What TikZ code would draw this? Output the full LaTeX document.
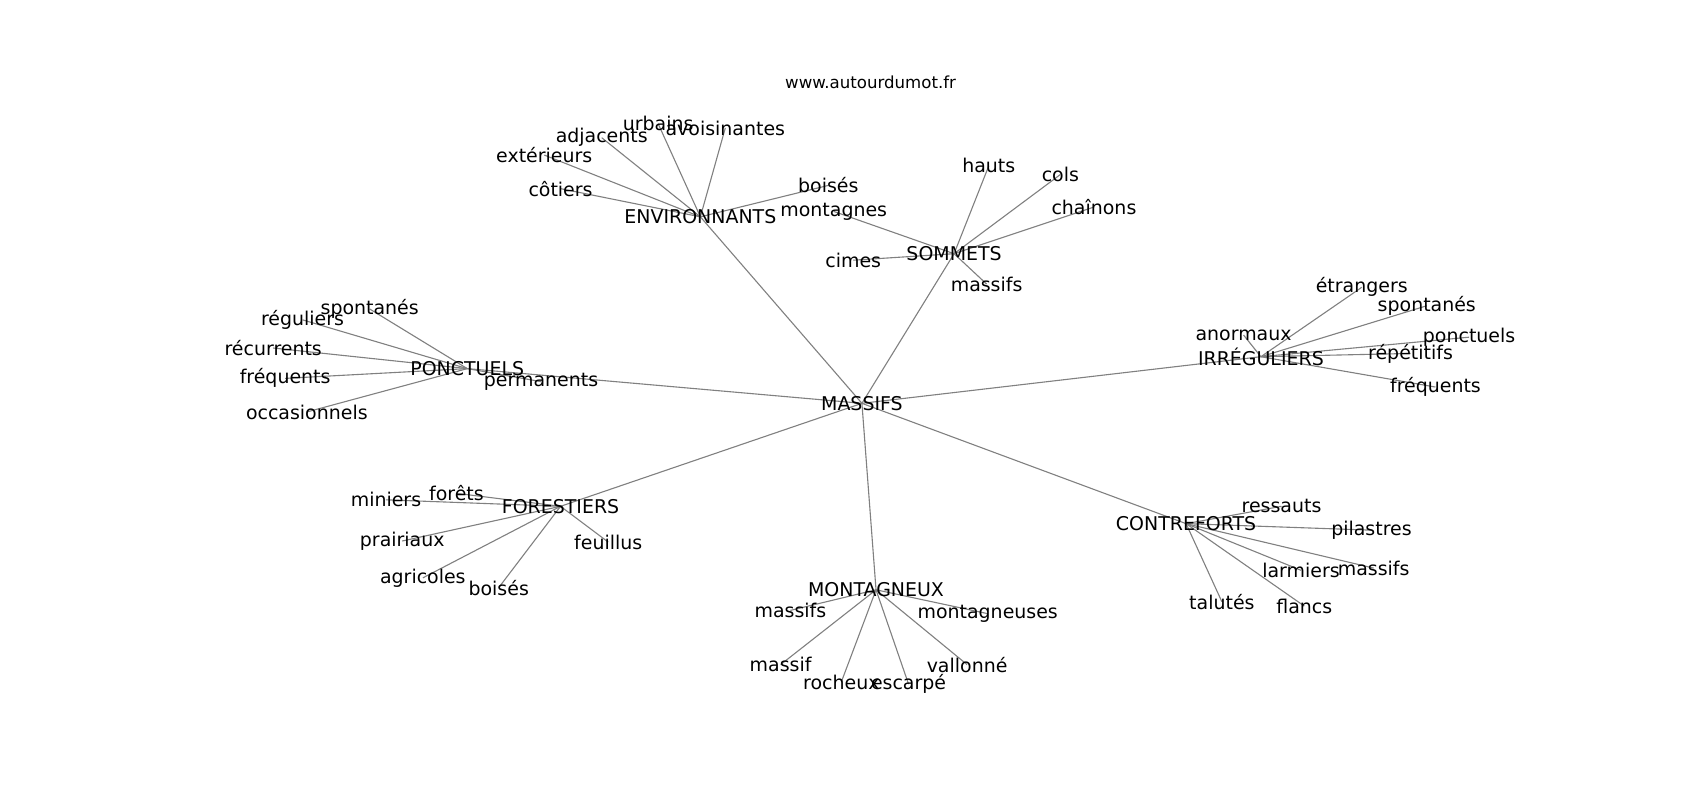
\documentclass[tikz,border=0pt]{standalone}
\usepackage{fontspec}
\setmainfont{DejaVu Sans}
\usetikzlibrary{backgrounds}
\tikzset{lbl/.style={inner sep=0pt,font=\fontsize{13.7}{16}\selectfont},
  edge/.style={draw=gray,line width=0.8pt}}
\begin{document}
\begin{tikzpicture}[x=0.027538cm,y=-0.027538cm]
\useasboundingbox (0,0) rectangle (1568,738);
\node[inner sep=0pt,font=\fontsize{12}{14}\selectfont] (titre) at (803,76) {www.autourdumot.fr};
% hubs
\foreach \n/\x/\y/\t in {mas/795/372/MASSIFS,env/646/200/ENVIRONNANTS,som/880/234/SOMMETS,
  pon/431/340/PONCTUELS,irr/1163/329/IRRÉGULIERS,fore/517/467/FORESTIERS,
  mon/808/544/MONTAGNEUX,con/1094/483/CONTREFORTS}
  \node[lbl] (\n) at (\x,\y) {\t};
% leaves
\foreach \n/\x/\y/\t in {urb/607/114/urbains,avo/669/118/avoisinantes,adj/555/127/adjacents,
  ext/502/143/extérieurs,cot/517/174/côtiers,boi/764/171/boisés,
  mtg/769/195/montagnes,hau/912/153/hauts,col/978/161/cols,cha/1009/191/chaînons,
  cim/787/240/cimes,msa/910/262/massifs,
  spa/341/285/spontanés,reg/279/295/réguliers,rec/252/321/récurrents,fra/263/349/fréquents,
  occ/283/380/occasionnels,per/499/352/permanents,
  ano/1147/309/anormaux,etr/1256/265/étrangers,spb/1316/282/spontanés,pct/1355/311/ponctuels,
  rep/1301/326/répétitifs,frb/1324/357/fréquents,
  frt/421/455/forêts,min/356/461/miniers,pra/371/499/prairiaux,agr/390/533/agricoles,
  bob/460/542/boisés,feu/561/500/feuillus,
  msb/729/563/massifs,mgn/911/566/montagneuses,msf/720/613/massif,roc/776/629/rocheux,
  esc/838/631/escarpé,val/892/613/vallonné,
  res/1182/467/ressauts,pil/1265/489/pilastres,lar/1200/526/larmiers,msc/1267/524/massifs,
  tal/1127/555/talutés,fla/1203/559/flancs}
  \node[lbl] (\n) at (\x,\y) {\t};
\begin{scope}[on background layer]
\foreach \a/\b in {mas/env,mas/som,mas/pon,mas/irr,mas/fore,mas/mon,mas/con,
  env/urb,env/avo,env/adj,env/ext,env/cot,env/boi,
  som/mtg,som/hau,som/col,som/cha,som/cim,som/msa,
  pon/spa,pon/reg,pon/rec,pon/fra,pon/occ,pon/per,
  irr/ano,irr/etr,irr/spb,irr/pct,irr/rep,irr/frb,
  fore/frt,fore/min,fore/pra,fore/agr,fore/bob,fore/feu,
  mon/msb,mon/mgn,mon/msf,mon/roc,mon/esc,mon/val,
  con/res,con/pil,con/lar,con/msc,con/tal,con/fla}
  \draw[edge] (\a.center)--(\b.center);
\end{scope}
\end{tikzpicture}
\end{document}
